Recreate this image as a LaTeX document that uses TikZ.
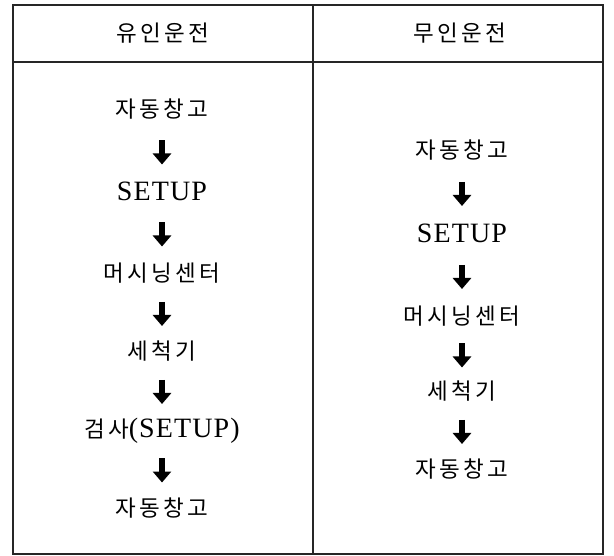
\documentclass[tikz,border=0pt]{standalone}
\usepackage{fontspec}
\setmainfont{Liberation Serif}
\newfontfamily\kr[LetterSpace=14]{Noto Sans CJK KR}
\usetikzlibrary{arrows.meta,calc}
\tikzset{
  tline/.style={line width=1.2pt, draw=black!85},
  lbl/.style={inner sep=0pt, text height=17pt, text depth=4pt, font=\fontsize{22.5pt}{26pt}\selectfont\kr},
  eng/.style={inner sep=0pt, text height=17pt, text depth=4pt, font=\fontsize{28pt}{31pt}\selectfont\addfontfeature{LetterSpace=4}},
  flow/.style={line width=6.5pt, -{Triangle[width=18pt,length=11pt]}, draw=black}
}
\newcommand{\flowarrow}[2]{\draw[flow] ($(#1)!.5!(#2)+(0,12)$) -- ($(#1)!.5!(#2)-(0,12)$);}
\begin{document}
\begin{tikzpicture}[x=1pt,y=1pt]
\useasboundingbox (0,0) rectangle (614,-556);
\fill[white] (0,0) rectangle (614,-556);
% table
\coordinate (tl) at (13,-5);
\coordinate (br) at (603,-554);
\draw[tline] (tl) rectangle (br);
\draw[tline] (13,-62) -- (603,-62);
\draw[tline] (313,-5) -- (313,-554);
% headers
\node[lbl] (h1) at (163,-35) {유인운전};
\node[lbl] (h2) at (460,-35) {무인운전};
% left column
\node[lbl] (a1) at (162,-111) {자동창고};
\node[eng] (a2) at (162,-194) {SETUP};
\node[lbl] (a3) at (162,-275) {머시닝센터};
\node[lbl] (a4) at (162,-353) {세척기};
\node[inner sep=0pt, text height=17pt, text depth=4pt] (a5) at (162,-431) {{\fontsize{22.5pt}{26pt}\selectfont\kr 검사}{\fontsize{28pt}{31pt}\selectfont\addfontfeature{LetterSpace=4}(SETUP)}};
\node[lbl] (a6) at (162,-510) {자동창고};
\flowarrow{a1}{a2}
\flowarrow{a2}{a3}
\flowarrow{a3}{a4}
\flowarrow{a4}{a5}
\flowarrow{a5}{a6}
% right column
\node[lbl] (b1) at (462,-152) {자동창고};
\node[eng] (b2) at (462,-236) {SETUP};
\node[lbl] (b3) at (462,-318) {머시닝센터};
\node[lbl] (b4) at (462,-393) {세척기};
\node[lbl] (b5) at (462,-471) {자동창고};
\flowarrow{b1}{b2}
\flowarrow{b2}{b3}
\flowarrow{b3}{b4}
\flowarrow{b4}{b5}
\end{tikzpicture}
\end{document}
